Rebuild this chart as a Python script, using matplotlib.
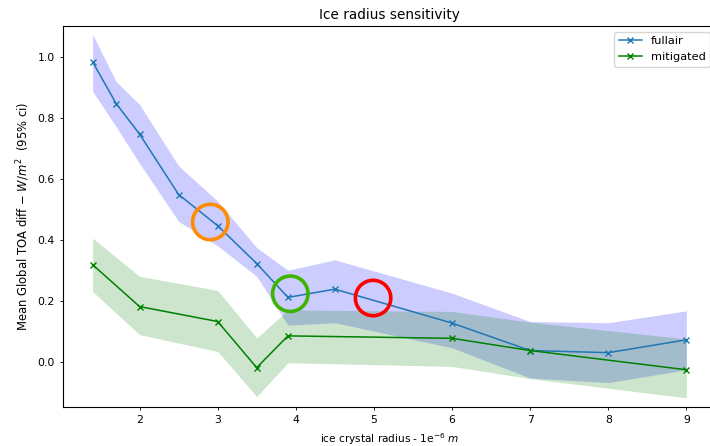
import matplotlib
matplotlib.use("Agg")
import matplotlib.pyplot as plt
import numpy as np

# fullair run
x_full = [1.4, 1.7, 2.0, 2.5, 3.0, 3.5, 3.9, 4.5, 6.0, 7.0, 8.0, 9.0]
mean_full = [0.982, 0.846, 0.746, 0.548, 0.446, 0.322, 0.211, 0.238, 0.127, 0.037, 0.030, 0.072]
lo_full = [0.886, 0.77, 0.65, 0.46, 0.38, 0.28, 0.12, 0.128, 0.046, -0.053, -0.068, -0.026]
hi_full = [1.072, 0.918, 0.843, 0.642, 0.526, 0.374, 0.30, 0.334, 0.225, 0.132, 0.128, 0.167]

# mitigated run
x_mit = [1.4, 2.0, 3.0, 3.5, 3.9, 6.0, 7.0, 9.0]
mean_mit = [0.318, 0.181, 0.132, -0.019, 0.085, 0.077, 0.037, -0.026]
lo_mit = [0.23, 0.089, 0.034, -0.114, -0.003, -0.015, -0.055, -0.118]
hi_mit = [0.405, 0.28, 0.234, 0.078, 0.17, 0.165, 0.13, 0.075]

# highlighted points
circ_x = [2.906, 3.93, 4.99]
circ_y = [0.458, 0.223, 0.209]
circ_c = ["#ff8c00", "#3cb400", "#ff0000"]

plt.rcParams["font.size"] = 7.8

fig = plt.figure(figsize=(7.1, 4.46), dpi=100)
ax = fig.add_axes([63 / 710, 1 - 407 / 446, (716 - 63) / 710, (407 - 26) / 446])

ax.plot(x_full, mean_full, marker="x", color="C0", lw=1.1, ms=4.5, mew=1.0, label="fullair")
ax.fill_between(x_full, lo_full, hi_full, color="blue", alpha=0.2, lw=0)
ax.plot(x_mit, mean_mit, marker="x", color="green", lw=1.1, ms=4.5, mew=1.0, label="mitigated")
ax.fill_between(x_mit, lo_mit, hi_mit, color="green", alpha=0.2, lw=0)

ax.scatter(circ_x, circ_y, s=650, facecolors="none", edgecolors=circ_c, linewidths=2.6, zorder=5)

ax.set_xlim(1.02, 9.38)
ax.set_ylim(-0.148, 1.10)
ax.set_xticks([2, 3, 4, 5, 6, 7, 8, 9])
ax.set_yticks([0.0, 0.2, 0.4, 0.6, 0.8, 1.0])
ax.tick_params(length=2.5, width=0.6)
for s in ax.spines.values():
    s.set_linewidth(0.8)

ax.set_title("Ice radius sensitivity", fontsize=9.8, pad=5)
ax.set_xlabel("ice crystal radius - 1e$^{-6}$ $m$", fontsize=7.6)
ax.set_ylabel("Mean Global TOA diff $-$ $W/m^2$  (95% ci)", fontsize=8.4)
ax.legend(loc="upper right", fontsize=8.2)

fig.savefig("out.png", dpi=100)
